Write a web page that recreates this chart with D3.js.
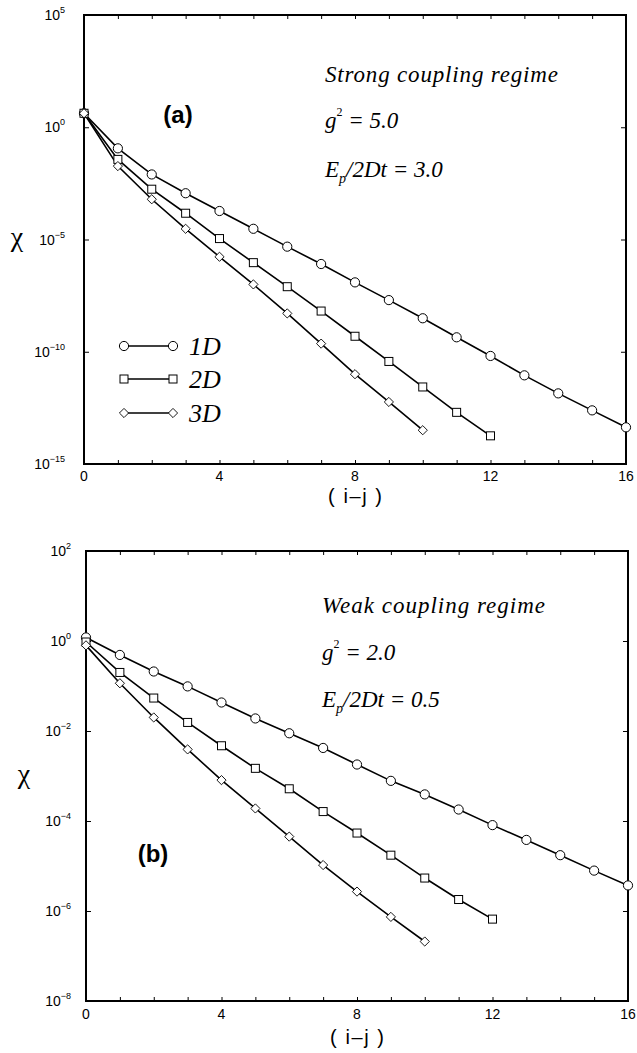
<!DOCTYPE html>
<html>
<head>
<meta charset="utf-8">
<script src="https://cdn.jsdelivr.net/npm/d3@7"></script>
<style>
  html, body { margin: 0; padding: 0; background: #fff; }
  svg { display: block; }
</style>
</head>
<body>
<script>
// ---------------- DATA ----------------
const stepsAll = [0,1,2,3,4,5,6,7,8,9,10,11,12,13,14,15,16];
const xTickLabels = [0, 4, 8, 12, 16];
const seriesNames = ["1D", "2D", "3D"];

// Panel (a): strong coupling regime
const chiA1D = [4.2, 0.115, 7.9e-3, 1.15e-3, 1.86e-4, 3.0e-5, 4.8e-6, 8.1e-7, 1.23e-7, 2.0e-8, 3.1e-9, 4.4e-10, 6.5e-11, 8.9e-12, 1.4e-12, 2.45e-13, 4.3e-14];
const chiA2D = [4.2, 3.7e-2, 1.74e-3, 1.48e-4, 1.1e-5, 9.3e-7, 7.9e-8, 6.5e-9, 4.9e-10, 3.7e-11, 2.7e-12, 2.0e-13, 1.8e-14];
const chiA3D = [4.2, 1.86e-2, 6.2e-4, 3.0e-5, 1.7e-6, 1.0e-7, 5.1e-9, 2.3e-10, 1.0e-11, 5.8e-13, 3.2e-14];
const yTickExpA = [5, 0, -5, -10, -15];
const textA = ["Strong coupling regime", "5.0", "3.0"];

// Panel (b): weak coupling regime
const chiB1D = [1.2, 0.49, 0.21, 9.8e-2, 4.3e-2, 1.9e-2, 8.9e-3, 4.2e-3, 1.8e-3, 7.8e-4, 3.9e-4, 1.8e-4, 8.1e-5, 3.8e-5, 1.74e-5, 7.9e-6, 3.7e-6];
const chiB2D = [0.95, 0.20, 5.4e-2, 1.55e-2, 4.7e-3, 1.48e-3, 5.2e-4, 1.62e-4, 5.4e-5, 1.74e-5, 5.4e-6, 1.8e-6, 6.6e-7];
const chiB3D = [0.8, 0.115, 2.0e-2, 3.9e-3, 8.1e-4, 1.9e-4, 4.5e-5, 1.05e-5, 2.7e-6, 7.4e-7, 2.1e-7];
const yTickExpB = [2, 0, -2, -4, -6, -8];
const textB = ["Weak coupling regime", "2.0", "0.5"];

// ---------------- LAYOUT ----------------
const W = 637, H = 1053;
const svg = d3.select("body").append("svg").attr("width", W).attr("height", H);

const SANS = "'Liberation Sans', Arial, Helvetica, sans-serif";
const SERIF = "'Liberation Serif', 'Times New Roman', serif";

const panels = [
  {
    label: "(a)", series: [chiA1D, chiA2D, chiA3D], yExp: yTickExpA, txt: textA,
    left: 84, right: 626, top: 15, bottom: 464,
    chi: [17, 246], labelPos: [178, 123], xLabelY: 503, tickLabelY: 481,
    textX: 325, textY: [82, 128, 177], titleLen: 233, tickLabelRight: 65, legend: true
  },
  {
    label: "(b)", series: [chiB1D, chiB2D, chiB3D], yExp: yTickExpB, txt: textB,
    left: 86, right: 628, top: 551, bottom: 1001,
    chi: [24, 783], labelPos: [153, 862], xLabelY: 1044, tickLabelY: 1019,
    textX: 322, textY: [613, 660, 707], titleLen: 223, tickLabelRight: 71, legend: false
  }
];

function drawMarker(g, type, cx, cy) {
  if (type === 0) {
    g.append("circle").attr("cx", cx).attr("cy", cy).attr("r", 4.6)
      .attr("fill", "#fff").attr("stroke", "#000").attr("stroke-width", 1);
  } else if (type === 1) {
    g.append("rect").attr("x", cx - 4).attr("y", cy - 4).attr("width", 8).attr("height", 8)
      .attr("fill", "#fff").attr("stroke", "#000").attr("stroke-width", 1);
  } else {
    const s = 4.6;
    g.append("path").attr("d", `M${cx},${cy - s}L${cx + s},${cy}L${cx},${cy + s}L${cx - s},${cy}Z`)
      .attr("fill", "#fff").attr("stroke", "#000").attr("stroke-width", 0.9);
  }
}

panels.forEach(p => {
  const g = svg.append("g");
  const x = d3.scaleLinear().domain([0, 16]).range([p.left, p.right]);
  const yMax = Math.pow(10, d3.max(p.yExp)), yMin = Math.pow(10, d3.min(p.yExp));
  const y = d3.scaleLog().domain([yMin, yMax]).range([p.bottom, p.top]);
  const decadeVals = p.yExp.map(e => Math.pow(10, e));

  // ticks via d3 axes (inward)
  const axB = g.append("g").attr("transform", `translate(0,${p.bottom})`)
    .call(d3.axisBottom(x).tickValues(stepsAll).tickSize(-4).tickFormat(""));
  const axT = g.append("g").attr("transform", `translate(0,${p.top})`)
    .call(d3.axisTop(x).tickValues(stepsAll).tickSize(-4).tickFormat(""));
  const axL = g.append("g").attr("transform", `translate(${p.left},0)`)
    .call(d3.axisLeft(y).tickValues(decadeVals).tickSize(-5).tickFormat(""));
  const axR = g.append("g").attr("transform", `translate(${p.right},0)`)
    .call(d3.axisRight(y).tickValues(decadeVals).tickSize(-5).tickFormat(""));
  [axB, axT, axL, axR].forEach(a => {
    a.select(".domain").remove();
    a.selectAll("line").attr("stroke", "#000").attr("stroke-width", 1);
  });

  // frame
  g.append("rect").attr("x", p.left).attr("y", p.top)
    .attr("width", p.right - p.left).attr("height", p.bottom - p.top)
    .attr("fill", "none").attr("stroke", "#000").attr("stroke-width", 2);

  // x tick labels
  g.selectAll(".xtl").data(xTickLabels).enter().append("text")
    .attr("x", d => x(d)).attr("y", p.tickLabelY)
    .attr("text-anchor", "middle").attr("font-family", SANS).attr("font-size", 14)
    .text(d => d);

  // y tick labels (10^n)
  p.yExp.forEach(e => {
    const t = g.append("text").attr("x", p.tickLabelRight).attr("y", y(Math.pow(10, e)) + 5)
      .attr("text-anchor", "end").attr("font-family", SANS).attr("font-size", 14);
    t.append("tspan").text("10");
    t.append("tspan").attr("dy", -7).attr("font-size", 9).text(e < 0 ? "\u2212" + (-e) : String(e));
  });

  // axis titles
  g.append("text").attr("x", (p.left + p.right) / 2 - 27).attr("y", p.xLabelY)
    .attr("font-family", SANS).attr("font-size", 20)
    .attr("textLength", 54).attr("lengthAdjust", "spacing")
    .text("( i\u2013j )");
  g.append("text").attr("x", p.chi[0]).attr("y", p.chi[1])
    .attr("text-anchor", "middle").attr("font-family", SERIF).attr("font-size", 28)
    .text("\u03C7");

  // series lines + markers
  const line = d3.line().x((d, i) => x(stepsAll[i])).y(d => y(d));
  p.series.forEach((s, k) => {
    g.append("path").datum(s).attr("d", line).attr("fill", "none")
      .attr("stroke", "#000").attr("stroke-width", 1.6);
  });
  p.series.forEach((s, k) => {
    s.forEach((v, i) => drawMarker(g, k, x(stepsAll[i]), y(v)));
  });

  // panel label
  g.append("text").attr("x", p.labelPos[0]).attr("y", p.labelPos[1])
    .attr("text-anchor", "middle").attr("font-family", SANS).attr("font-weight", "bold")
    .attr("font-size", 24).text(p.label);

  // annotations
  const ann = g.append("g").attr("font-family", SERIF).attr("font-style", "italic").attr("font-size", 23);
  ann.append("text").attr("x", p.textX).attr("y", p.textY[0])
    .attr("textLength", p.titleLen).attr("lengthAdjust", "spacing").text(p.txt[0]);
  const t2 = ann.append("text").attr("x", p.textX).attr("y", p.textY[1]);
  t2.append("tspan").text("g");
  t2.append("tspan").attr("dy", -12).attr("font-size", 12).attr("font-style", "normal").text("2");
  t2.append("tspan").attr("dy", 12).text(" = " + p.txt[1]);
  const t3 = ann.append("text").attr("x", p.textX).attr("y", p.textY[2]);
  t3.append("tspan").text("E");
  t3.append("tspan").attr("dy", 6).attr("font-size", 14).text("p");
  t3.append("tspan").attr("dy", -6).text("/2Dt = " + p.txt[2]);

  // legend
  if (p.legend) {
    const ly = [346, 379, 413];
    seriesNames.forEach((name, k) => {
      g.append("line").attr("x1", 124).attr("x2", 173).attr("y1", ly[k]).attr("y2", ly[k])
        .attr("stroke", "#000").attr("stroke-width", 1.6);
      drawMarker(g, k, 124, ly[k]);
      drawMarker(g, k, 173, ly[k]);
      g.append("text").attr("x", 189).attr("y", ly[k] + 9)
        .attr("font-family", SERIF).attr("font-style", "italic").attr("font-size", 26)
        .text(name);
    });
  }
});
</script>
</body>
</html>
